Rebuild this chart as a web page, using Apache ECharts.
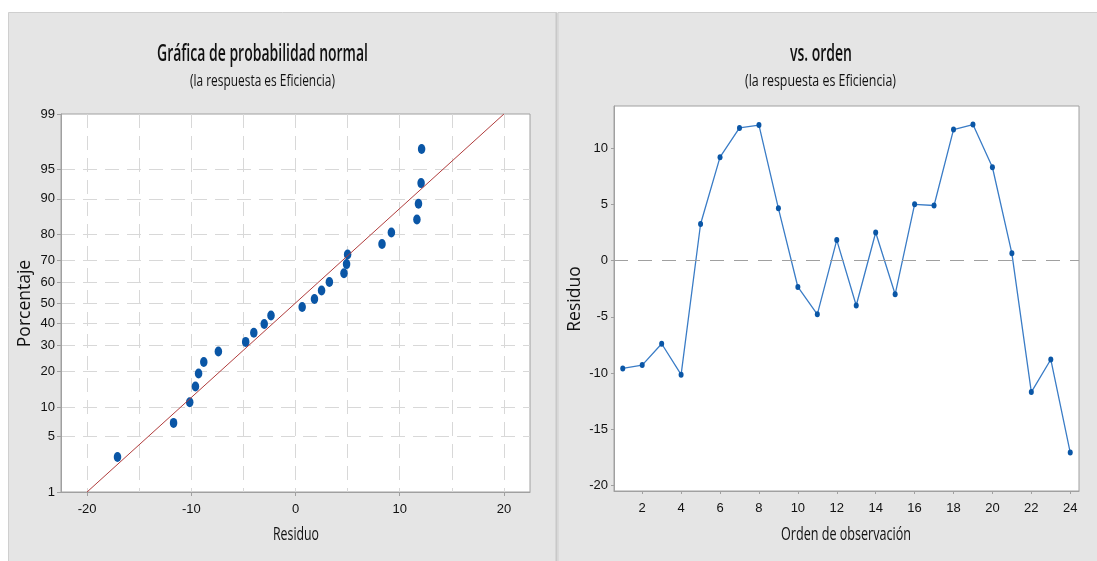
<!DOCTYPE html>
<html><head><meta charset="utf-8">
<script src="https://cdn.jsdelivr.net/npm/echarts@6/dist/echarts.min.js"></script>
<style>html,body{margin:0;padding:0;background:#fff;} #c{width:1097px;height:561px;}</style>
</head><body><div id="c"></div>
<script>
// ---- data ----
const observationOrder = [1,2,3,4,5,6,7,8,9,10,11,12,13,14,15,16,17,18,19,20,21,22,23,24];
const residuals = [-9.6,-9.3,-7.4,-10.15,3.25,9.2,11.8,12.05,4.65,-2.35,-4.78,1.82,-4.0,2.5,-3.0,5.0,4.9,11.65,12.1,8.3,0.64,-11.7,-8.8,-17.08];
const percentages = [2.9,7.0,11.1,15.2,19.3,23.4,27.5,31.6,35.7,39.8,43.9,48.0,52.0,56.1,60.2,64.3,68.4,72.5,76.6,80.7,84.8,88.9,93.0,97.1];
const fitLineResiduo = [-20, 20];
const fitLinePct = [1, 99];
const pctTicks = [1,5,10,20,30,40,50,60,70,80,90,95,99];
const pctGrid = [5,10,20,30,40,50,60,70,80,90,95];
const resTicks = [-20,-10,0,10,20];
const resGrid = [-20,-15,-10,-5,0,5,10,15,20];
const orderTicks = [2,4,6,8,10,12,14,16,18,20,22,24];
const rightYTicks = [-20,-15,-10,-5,0,5,10];

// inverse normal CDF (probability-scale transform)
function probit(p){
 const a=[-3.969683028665376e+01,2.209460984245205e+02,-2.759285104469687e+02,1.383577518672690e+02,-3.066479806614716e+01,2.506628277459239e+00];
 const b=[-5.447609879822406e+01,1.615858368580409e+02,-1.556989798598866e+02,6.680131188771972e+01,-1.328068155288572e+01];
 const c=[-7.784894002430293e-03,-3.223964580411365e-01,-2.400758277161838e+00,-2.549732539343734e+00,4.374664141464968e+00,2.938163982698783e+00];
 const d=[7.784695709041462e-03,3.224671290700398e-01,2.445134137142996e+00,3.754408661907416e+00];
 const pl=0.02425, ph=1-pl; let q,r;
 if(p<pl){q=Math.sqrt(-2*Math.log(p));return (((((c[0]*q+c[1])*q+c[2])*q+c[3])*q+c[4])*q+c[5])/((((d[0]*q+d[1])*q+d[2])*q+d[3])*q+1);}
 if(p<=ph){q=p-0.5;r=q*q;return (((((a[0]*r+a[1])*r+a[2])*r+a[3])*r+a[4])*r+a[5])*q/(((((b[0]*r+b[1])*r+b[2])*r+b[3])*r+b[4])*r+1);}
 q=Math.sqrt(-2*Math.log(1-p));return -(((((c[0]*q+c[1])*q+c[2])*q+c[3])*q+c[4])*q+c[5])/((((d[0]*q+d[1])*q+d[2])*q+d[3])*q+1);
}
const z = p => probit(p/100);
const zTicks = pctTicks.map(z);
function pctLabel(v){
  let best = pctTicks[0], bd = Infinity;
  pctTicks.forEach(p => { const dd = Math.abs(z(p) - v); if (dd < bd) { bd = dd; best = p; } });
  return String(best);
}

const FONT = "'Open Sans','Noto Sans','Liberation Sans',sans-serif";
const TICKFONT = "'Liberation Sans','Open Sans',sans-serif";
const AX = '#a0a0a0';
const TXT = '#111';
const GRIDC = '#d8d8d8';

// condensed text helper: horizontally scaled real text
const mctx = document.createElement('canvas').getContext('2d');
function condText(text, cx, cy, size, targetW, rot, weight){
  const font = (weight || 'normal') + ' ' + size + 'px ' + FONT;
  mctx.font = font;
  const w = mctx.measureText(text).width;
  return {type:'text', z:10, x:cx, y:cy, rotation:rot||0,
    scaleX: targetW ? targetW / w : 1,
    style:{text:text, font: font, fill:'#111', align:'center', verticalAlign:'middle'}};
}

const sortedRes = residuals.slice().sort((x,y)=>x-y);

const chart = echarts.init(document.getElementById('c'), null, {renderer:'canvas'});
chart.setOption({
  animation:false,
  textStyle:{fontFamily:FONT},
  graphic:[
    {type:'rect', z:-10, shape:{x:8.5,y:12.5,width:548,height:560}, style:{fill:'#e5e5e5', stroke:'#cfcfcf', lineWidth:1}},
    {type:'rect', z:-10, shape:{x:558,y:12.5,width:545,height:560}, style:{fill:'#e5e5e5', stroke:'#cfcfcf', lineWidth:1}},
    {type:'rect', z:-9, shape:{x:555.5,y:12.5,width:2,height:560}, style:{fill:'#c8c8c8'}},
    condText('Gráfica de probabilidad normal', 262.5, 54, 23, 211, 0, 600),
    condText('(la respuesta es Eficiencia)', 262.5, 81, 16.5, 145, 0, 500),
    condText('vs. orden', 821, 54, 23, 62, 0, 600),
    condText('(la respuesta es Eficiencia)', 820.5, 81, 16.5, 151, 0, 500),
    condText('Residuo', 296, 535, 18, 46, 0, 500),
    condText('Orden de observación', 846, 535, 18, 130, 0, 500),
    condText('Porcentaje', 25, 303.5, 17.5, 0, Math.PI/2, 'normal'),
    condText('Residuo', 575.5, 299, 17.5, 0, Math.PI/2, 'normal')
  ],
  grid:[
    {left:61, top:114, width:469, height:378, show:true, backgroundColor:'#fff', borderColor:AX, borderWidth:1},
    {left:614, top:106, width:465, height:385, show:true, backgroundColor:'#fff', borderColor:AX, borderWidth:1}
  ],
  xAxis:[
    {type:'value', gridIndex:0, min:-22.5, max:22.5, position:'bottom',
     axisLine:{show:true, onZero:false, lineStyle:{color:AX}},
     axisTick:{show:true, length:4, customValues:resTicks, lineStyle:{color:AX}},
     axisLabel:{customValues:resTicks, color:TXT, fontSize:13, margin:11, fontFamily:TICKFONT},
     splitLine:{show:false}},
    {type:'value', gridIndex:0, min:-22.5, max:22.5, position:'top',
     axisLine:{show:false}, axisLabel:{show:false},
     axisTick:{show:false, customValues:resGrid},
     splitLine:{show:true, lineStyle:{color:GRIDC, type:[14,8], width:1}}},
    {type:'value', gridIndex:1, min:0.55, max:24.45,
     axisLine:{show:true, onZero:false, lineStyle:{color:AX}},
     axisTick:{show:true, length:3, customValues:orderTicks, lineStyle:{color:AX}},
     axisLabel:{customValues:orderTicks, color:TXT, fontSize:13, margin:11, fontFamily:TICKFONT},
     splitLine:{show:false}}
  ],
  yAxis:[
    {type:'value', gridIndex:0, min:z(1), max:z(99), position:'left',
     axisLine:{show:true, onZero:false, lineStyle:{color:AX}},
     axisTick:{show:true, length:4, customValues:zTicks, lineStyle:{color:AX}},
     axisLabel:{customValues:zTicks, formatter:pctLabel, color:TXT, fontSize:13, margin:6, fontFamily:TICKFONT},
     splitLine:{show:false}},
    {type:'value', gridIndex:0, min:z(1), max:z(99), position:'right',
     axisLine:{show:false}, axisLabel:{show:false},
     axisTick:{show:false, customValues:pctGrid.map(z)},
     splitLine:{show:true, lineStyle:{color:GRIDC, type:[14,8], width:1}}},
    {type:'value', gridIndex:1, min:-20.5, max:13.75,
     axisLine:{show:true, onZero:false, lineStyle:{color:AX}},
     axisTick:{show:true, length:3, customValues:rightYTicks, lineStyle:{color:AX}},
     axisLabel:{customValues:rightYTicks, color:TXT, fontSize:13, margin:6, fontFamily:TICKFONT},
     splitLine:{show:false}}
  ],
  series:[
    {type:'line', xAxisIndex:0, yAxisIndex:0, symbol:'none', silent:true,
     data: fitLineResiduo.map((x,i)=>[x, z(fitLinePct[i])]),
     lineStyle:{color:'#b03c3c', width:1}},
    {type:'scatter', xAxisIndex:0, yAxisIndex:0, symbol:'circle', symbolSize:[7.5,10],
     data: sortedRes.map((x,i)=>[x, z(percentages[i])]),
     itemStyle:{color:'#0a56a6', opacity:1}},
    {type:'line', xAxisIndex:2, yAxisIndex:2, symbol:'circle', symbolSize:[5,6], showSymbol:true,
     data: residuals.map((v,i)=>[observationOrder[i], v]),
     lineStyle:{color:'#3a7cc6', width:1.3},
     itemStyle:{color:'#0a56a6'},
     markLine:{silent:true, symbol:'none', label:{show:false}, data:[{yAxis:0}],
       lineStyle:{color:'#a0a0a0', type:[14,10], width:1.2}}}
  ]
});
</script></body></html>
